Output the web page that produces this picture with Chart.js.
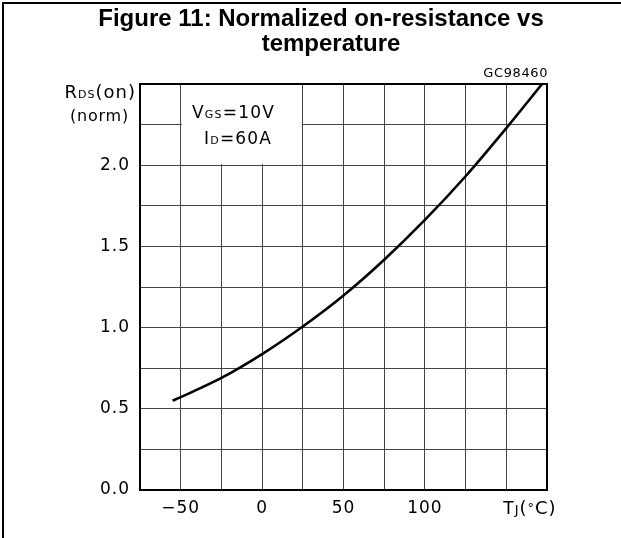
<!DOCTYPE html>
<html>
<head>
<meta charset="utf-8">
<script src="https://cdn.jsdelivr.net/npm/chart.js@4/dist/chart.umd.min.js"></script>
<style>
  html, body { margin: 0; padding: 0; background: #fff; }
  #wrap { position: relative; width: 621px; height: 538px; }
  #frame { position: absolute; left: 2px; top: 2px; right: 0; bottom: 0;
           border-top: 2px solid #000; border-left: 2px solid #000; pointer-events: none; }
</style>
</head>
<body>
<div id="wrap">
  <canvas id="rdsTemp" width="621" height="538"></canvas>
  <div id="frame"></div>
</div>
<script>
// values
var temps = [-55, -50, -25, 0, 25, 50, 75, 100, 125, 150, 172];
var rdsNorm = [0.55, 0.572, 0.69, 0.837, 1.007, 1.198, 1.418, 1.663, 1.932, 2.228, 2.50];
var xTickLabels = [-50, 0, 50, 100];
var yTickLabels = [0, 0.5, 1.0, 1.5, 2.0];

var techFont = '"DejaVu Sans"';

// draws runs of text with mixed sizes (for subscripts) on one baseline
function drawRuns(ctx, runs, x, y, align, spacing) {
    ctx.letterSpacing = (spacing || 0) + 'px';
    var total = 0;
    runs.forEach(function (r) {
        ctx.font = r[1] + 'px ' + techFont;
        total += ctx.measureText(r[0]).width;
    });
    var cx = align === 'right' ? x - total : x;
    ctx.textAlign = 'left';
    ctx.textBaseline = 'alphabetic';
    runs.forEach(function (r) {
        ctx.font = r[1] + 'px ' + techFont;
        ctx.fillText(r[0], cx, y + (r[2] || 0));
        cx += ctx.measureText(r[0]).width;
    });
    ctx.letterSpacing = '0px';
}

var extras = {
    id: 'extras',
    beforeDraw: function (chart) {
        chart.ctx.letterSpacing = '1px';
    },
    beforeDatasetsDraw: function (chart) {
        var ctx = chart.ctx, xs = chart.scales.x, ys = chart.scales.y;
        // blank box behind the test conditions
        var l = xs.getPixelForValue(-50), r = xs.getPixelForValue(25);
        var t = ys.getPixelForValue(2.5), b = ys.getPixelForValue(2.0);
        ctx.save();
        ctx.fillStyle = '#fff';
        ctx.fillRect(l + 1, t, r - l - 2, b - t - 1);
        ctx.restore();
    },
    afterDraw: function (chart) {
        var ctx = chart.ctx, a = chart.chartArea, xs = chart.scales.x;
        ctx.save();
        ctx.strokeStyle = '#000';
        ctx.lineWidth = 2;
        ctx.strokeRect(a.left, a.top, a.right - a.left, a.bottom - a.top);

        ctx.fillStyle = '#000';
        ctx.letterSpacing = '0px';
        ctx.font = 'bold 24px "Liberation Sans", Arial, sans-serif';
        ctx.textAlign = 'center';
        ctx.textBaseline = 'middle';
        ctx.fillText('Figure 11: Normalized on-resistance vs', 321, 19);
        ctx.fillText('temperature', 331, 44);

        ctx.letterSpacing = '0.6px';
        ctx.font = '13px ' + techFont;
        ctx.textAlign = 'right';
        ctx.fillText('GC98460', a.right + 1, 74);

        drawRuns(ctx, [['R', 18], ['DS', 11], ['(on)', 18]], 136, 98, 'right', 1);
        drawRuns(ctx, [['(norm)', 16]], 129, 121, 'right', 0.8);
        drawRuns(ctx, [['V', 17], ['GS', 11], ['=10V', 17]], 192, 118, 'left', 1.2);
        drawRuns(ctx, [['I', 17], ['D', 11], ['=60A', 17]], 204, 144, 'left', 1.2);
        drawRuns(ctx, [['T', 17], ['J', 13], ['(', 18], ['°', 13, -2], ['C)', 18]],
            xs.getPixelForValue(150) - 3, 514, 'left', 1);
        ctx.restore();
    }
};

var ctx = document.getElementById('rdsTemp');
var myChart = new Chart(ctx, {
    type: 'line',
    data: {
        datasets: [{
            data: temps.map(function (t, i) { return { x: t, y: rdsNorm[i] }; }),
            borderColor: '#000',
            borderWidth: 2.6,
            pointRadius: 0,
            fill: false,
            cubicInterpolationMode: 'monotone',
        }]
    },
    options: {
        responsive: false,
        animation: false,
        layout: { padding: { top: 84, right: 74, left: 0, bottom: 0 } },
        plugins: {
            legend: { display: false },
            tooltip: { enabled: false },
        },
        scales: {
            x: {
                type: 'linear',
                min: -75,
                max: 175,
                afterFit: function (scale) { scale.height = 48; },
                ticks: {
                    stepSize: 25,
                    padding: 8,
                    color: '#000',
                    font: { family: techFont, size: 17 },
                    maxRotation: 0,
                    autoSkip: false,
                    callback: function (v) {
                        if (xTickLabels.indexOf(v) < 0) return '';
                        return v < 0 ? '\u2212' + Math.abs(v) : String(v);
                    },
                },
                grid: { color: '#444', lineWidth: 1, drawTicks: false },
                border: { color: '#000', width: 2 },
            },
            y: {
                min: 0,
                max: 2.5,
                afterFit: function (scale) { scale.width = 140; },
                ticks: {
                    stepSize: 0.25,
                    padding: 10,
                    color: '#000',
                    font: { family: techFont, size: 17 },
                    autoSkip: false,
                    callback: function (v) {
                        for (var i = 0; i < yTickLabels.length; i++) {
                            if (Math.abs(yTickLabels[i] - v) < 1e-6) return v.toFixed(1);
                        }
                        return '';
                    },
                },
                grid: { color: '#444', lineWidth: 1, drawTicks: false },
                border: { color: '#000', width: 2 },
            },
        },
    },
    plugins: [extras],
});
</script>
</body>
</html>
